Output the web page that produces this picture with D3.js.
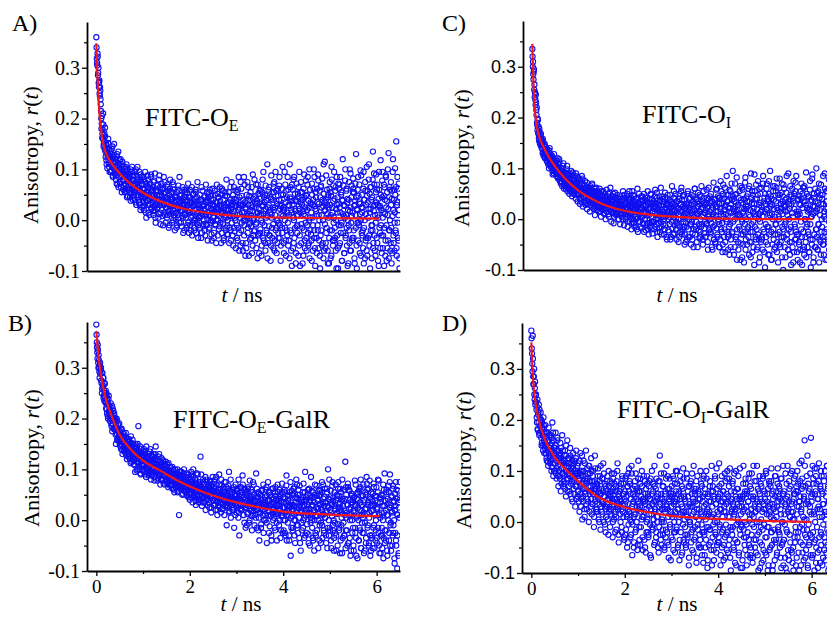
<!DOCTYPE html>
<html>
<head>
<meta charset="utf-8">
<script src="https://cdn.jsdelivr.net/npm/d3@7"></script>
<style>
  body { margin: 0; background: #fff; }
  svg { display: block; }
</style>
</head>
<body>
<script>
// decay traces, anisotropy in units of 0.001
// rX     : samples at t = 0, 0.01, 0.02 ... ns
// rX_mid : samples at t = 0.005, 0.015, 0.025 ... ns
const tStep = 0.01;

const rA = [
  360,318,305,322,290,270,272,250,262,238, 215,180,205,170,160,188,150,172,140,165,
  125,150,110,135,128,152,118,105,140,122, 130,95,118,140,105,88,125,112,150,100,
  92,115,80,108,125,70,98,135,85,110, 75,100,120,65,95,88,110,78,60,105,
  90,55,85,105,70,62,98,48,82,75, 60,88,45,100,70,52,80,95,40,68,
  78,50,95,62,35,72,85,58,105,45, 65,40,80,30,55,90,48,70,25,62,
  45,85,20,60,75,35,50,5,68,40, 55,80,15,42,70,30,62,90,25,48,
  35,65,10,50,78,20,45,-5,58,30, 50,25,70,5,42,88,30,15,55,38,
  20,60,40,-10,52,30,75,10,45,25, 45,5,35,65,18,-15,50,28,80,12,
  30,55,-5,40,20,70,10,35,-20,48, 15,45,30,-10,60,22,5,38,85,18,
  35,-5,50,20,8,42,-25,28,60,12, 10,40,25,-15,55,18,30,-5,45,20,
  60,-10,25,5,40,-30,15,50,0,30, -20,35,10,55,22,-5,45,8,-35,25,
  30,5,-15,40,18,65,-25,12,28,-8, 0,45,20,-30,35,10,-10,55,15,25,
  38,-18,8,60,-5,22,42,-40,15,30, 5,30,-25,18,50,-10,35,0,70,12,
  -30,22,45,8,-12,38,15,-45,28,62, 18,-8,40,-35,25,10,55,-20,5,33,
  48,0,-28,20,35,-15,8,65,-40,22, -5,30,12,-50,42,18,-22,5,58,28,
  40,-35,10,60,-15,25,-60,30,5,75, -20,48,15,-45,30,0,85,-10,35,-70,
  22,-55,50,8,-25,65,12,-8,40,-38, 55,-12,30,-65,18,90,-30,5,45,-20,
  -40,25,70,-5,38,-75,15,52,-28,10, 35,-18,60,0,-50,28,80,-35,12,45,
  -10,50,-60,22,40,-25,110,8,-45,30, 65,-30,15,-80,42,5,-15,55,25,-55,
  20,75,-40,10,-20,58,-65,32,0,48, -35,40,85,-10,28,-50,12,62,-25,18,
  50,-45,20,95,-15,35,-70,8,45,-30, -5,60,-40,28,110,-20,42,-60,15,70,
  30,-55,80,0,-35,52,18,-85,38,-12, -25,45,10,65,-50,22,-90,35,75,-8,
  55,-15,40,-70,12,90,-40,25,-5,48, -60,20,70,-25,38,-45,100,5,-20,32,
  15,-80,50,30,-10,62,-35,85,-55,22, 45,8,-65,35,-20,78,10,-40,58,-95,
  -30,68,25,-50,40,0,-75,52,18,115, 20,-45,88,-15,30,-60,45,5,-85,62,
  -20,55,10,-70,80,25,-40,38,-5,95, 42,-35,65,0,-95,30,15,-55,72,-10,
  -50,25,85,-25,50,-5,-80,40,12,68, 30,-65,5,100,-30,58,-15,35,-90,20,
  -10,75,-45,18,92,-60,45,8,-35,55, 62,-20,28,-85,38,10,130,-50,22,-5,
  -40,48,-10,70,-65,32,0,88,-25,15, 25,-55,95,-15,40,-75,58,12,-35,105,
  -70,35,5,80,-30,52,-95,22,65,-10, 45,-20,135,-45,18,70,-60,30,-5,90,
  -35,60,10,-80,42,95,-15,28,-55,50, 20,-65,78,5,-30,48,-90,65,12,-40,
  85,-10,38,-55,100,22,-75,45,-20,60, -45,30,-85,58,8,120,-30,40,-60,15,
  50,-25,155,-70,35,-5,62,-40,20,-95
];
const rA_mid = [
  340,310,328,285,300,262,275,245,255,228, 200,190,162,178,210,145,168,155,182,135,
  148,118,142,102,130,160,112,138,95,126, 110,135,98,122,145,85,115,102,128,92,
  120,88,105,72,130,95,112,65,100,118, 95,72,108,85,55,115,80,98,68,90,
  72,100,58,88,110,45,78,92,65,85, 82,55,95,38,75,62,105,48,88,70,
  55,88,40,70,100,30,65,80,50,75, 70,35,95,58,20,78,45,85,52,38,
  62,28,80,45,95,15,55,72,38,88, 30,65,50,10,72,40,85,22,58,45,
  60,18,75,40,28,92,5,55,35,68, 22,58,40,80,12,48,65,-8,35,72,
  48,8,62,30,85,15,40,55,-5,35, 25,70,10,42,58,32,-10,62,18,45,
  55,15,42,75,0,28,60,22,45,5, 40,-15,55,25,10,68,32,-5,48,28,
  18,50,-12,38,65,5,30,45,-20,55, 45,5,60,30,-10,38,72,15,-25,35,
  15,45,-20,35,65,8,-5,28,52,-15, 42,0,60,-25,30,15,75,-10,38,5,
  -5,50,22,8,-35,40,15,58,-12,32, 28,-20,48,12,70,-8,35,2,-40,45,
  10,55,-15,32,0,48,-28,20,62,-2, 40,-35,22,58,-8,15,-45,35,25,52,
  0,45,-18,30,65,-5,25,50,-25,12, 58,15,-40,30,5,48,-15,20,80,-28,
  -12,35,22,55,-45,10,40,-20,30,75, 25,-30,50,8,65,-15,35,0,-55,40,
  -10,55,-40,20,85,-25,45,12,-50,30, 62,-5,28,-60,40,15,-30,70,0,25,
  -45,38,5,75,-15,30,-70,48,18,-5, 10,-35,65,25,-50,42,0,-22,80,35,
  48,-8,-55,32,15,70,-30,22,-65,58, -25,42,12,-70,55,-5,30,95,-40,18,
  35,-45,68,5,-20,48,-75,25,60,-12, -30,20,45,-50,88,12,-35,40,-8,72,
  55,-60,25,95,-15,38,0,-45,62,-25, -5,68,-35,22,-80,50,30,-15,105,8,
  25,-65,42,0,70,-40,58,-20,15,85, -50,30,10,-75,45,65,-25,20,-90,38,
  60,5,-45,85,22,-15,40,-65,72,10, -10,52,-70,28,95,-30,15,55,-45,40,
  30,-85,18,62,-20,45,-55,8,78,-35, 50,-10,85,-50,25,0,-75,60,35,-28,
  -40,72,5,-60,40,100,-20,28,-90,55, 18,-35,62,-10,90,-55,32,0,-70,45,
  65,-20,10,82,-45,28,110,-60,35,-8, -55,40,-25,60,12,-85,50,25,-35,75,
  30,-75,48,105,-20,15,-50,68,5,-40, -15,58,-60,22,85,-30,45,-95,32,62,
  70,-45,15,-10,55,-80,38,120,-25,8, -65,28,78,-35,10,62,-50,42,0,-85,
  40,-20,100,-60,25,-5,68,-40,15,82, -35,55,-75,30,72,-15,45,-95,20,60,
  85,-5,35,-45,12,98,-70,25,50,-30, -20,62,-85,40,0,75,-40,30,-60,48,
  58,-35,22,110,-50,15,65,-20,40,-75, -10,80,-55,28,92,-30,10,-70,55,35,
  70,-45,30,5,-90,60,25,-25,118,-10, -30,45,95,-55,15,70,-15,40,-70,88,
  25,-80,55,10,-40,132,-20,65,0,-60, 75,-15,42,-65,95,20,-45,60,-5,102,
  -20,65,-55,30,85,-35,10,72,-75,45
];

const rB = [
  385,350,330,345,310,325,300,280,310,295, 300,270,250,290,265,280,245,235,268,250,
  255,220,245,210,232,200,238,215,225,195, 215,230,190,205,175,220,200,180,210,195,
  180,200,150,185,170,195,160,178,165,190, 150,175,160,140,180,155,130,170,162,145,
  165,138,155,172,128,150,145,160,125,148, 130,155,120,148,165,115,140,135,150,118,
  110,140,125,95,150,130,115,145,100,135, 185,120,105,135,92,128,140,110,125,98,
  125,100,140,108,90,130,115,145,95,120, 105,125,88,118,135,98,110,80,128,112,
  90,115,130,100,85,122,108,145,95,105, 110,78,102,125,92,88,115,70,100,108,
  82,105,95,115,72,100,88,110,78,95, 98,75,110,85,65,92,80,105,70,88,
  70,95,82,62,100,78,88,55,90,75, 85,68,92,72,55,80,65,10,78,95,
  62,80,70,88,50,75,65,92,58,72, 78,55,85,65,48,72,60,90,52,68,
  40,75,60,95,55,70,35,62,85,50, 65,45,80,30,58,72,50,90,42,62,
  48,70,55,125,40,65,28,58,75,45, 60,35,72,50,20,58,80,42,55,65,
  40,68,25,55,75,45,15,60,50,85, 55,30,65,42,80,20,50,70,38,10,
  35,60,45,90,25,52,40,15,68,48, 50,22,65,38,10,55,45,75,30,-10,
  28,48,62,35,95,18,42,55,5,40, 45,20,38,60,25,-15,50,32,70,28,
  15,42,58,30,5,48,-30,38,65,22, 40,20,55,88,28,10,45,-5,35,60,
  25,50,-10,38,62,15,32,45,0,28, 48,18,35,-20,55,30,10,70,25,40,
  10,38,92,22,-15,45,30,55,5,-40, 35,15,50,-8,28,60,20,40,-25,32,
  18,45,0,30,65,-45,25,38,10,55, 40,-12,28,50,8,-40,35,15,62,22,
  5,32,55,-20,18,42,-5,28,70,12, 30,-10,45,20,-35,38,8,55,15,-25,
  45,-20,25,60,0,-30,35,88,10,20, -5,40,18,-40,55,28,-70,35,8,50,
  30,-15,62,12,-30,45,0,25,80,-10, 20,50,-25,35,5,68,-45,15,40,-5,
  -20,28,55,0,38,-35,18,95,10,45, 40,-8,22,60,-28,15,35,-50,48,5,
  12,58,-15,30,-40,45,20,0,70,-25, -30,25,48,8,38,-55,15,60,-10,32,
  50,-5,20,75,-35,10,42,-20,28,62, 5,35,-45,18,55,-15,100,25,-30,40,
  -20,45,15,-55,30,68,-10,38,0,-35, 55,-25,22,40,-60,12,48,-8,75,18,
  -15,32,62,-40,20,5,-65,42,28,-5, 38,-30,10,115,-20,50,15,-50,30,65,
  -45,22,58,0,-70,35,12,48,-25,40, 18,-60,45,28,-15,70,-35,5,52,-75,
  40,0,-40,62,20,-20,80,-55,30,10, -25,48,15,-65,35,-5,55,-45,22,72,
  60,-10,30,-50,5,78,-30,42,-60,18, -35,28,52,-15,65,-55,10,38,-20,48,
  22,-45,35,80,-25,12,-65,45,5,-30, 50,-15,-55,28,70,-35,15,92,-20,38,
  -40,60,10,-70,42,0,55,-25,75,-50, 30,-60,48,15,-30,68,-10,35,-75,20,
  -25,75,-50,42,-95,10,58,-65,25,40
];
const rB_mid = [
  365,340,318,335,300,315,292,305,288,298, 275,290,258,262,280,240,255,270,242,232,
  230,250,218,240,205,228,245,210,220,205, 200,212,185,225,198,190,215,182,205,178,
  195,168,182,200,158,175,188,162,172,155, 168,145,158,178,148,138,165,152,172,135,
  140,158,132,162,150,120,155,142,135,160, 145,125,138,112,152,142,128,158,120,132,
  128,145,108,135,120,140,98,130,150,115, 112,130,100,145,118,90,132,108,122,135,
  108,128,95,118,135,102,85,125,112,100, 120,92,130,105,115,140,95,118,88,125,
  100,125,92,112,78,118,130,98,110,88, 95,118,82,105,130,88,98,112,80,122,
  102,78,118,90,95,110,70,98,115,85, 80,100,72,95,112,82,90,68,105,78,
  92,70,105,85,75,98,60,88,100,72, 65,88,78,100,70,58,90,82,68,96,
  82,60,95,70,85,52,78,100,65,75, 58,80,70,50,92,62,75,45,82,65,
  72,52,88,45,65,80,58,100,48,68, 55,82,38,70,60,92,45,65,75,35,
  65,40,75,58,90,50,62,35,80,55, 45,70,52,85,38,60,75,48,30,65,
  62,35,55,78,45,68,25,58,72,40, 38,58,75,30,62,48,85,40,55,20,
  55,28,48,70,35,60,45,80,22,50, 32,62,40,55,75,28,50,35,65,45,
  52,25,68,40,15,58,35,80,45,30, 30,55,42,20,65,38,50,10,48,60,
  48,25,62,38,80,15,42,55,28,65, 20,50,35,70,10,45,60,25,40,-15,
  55,30,48,12,65,40,-5,35,78,22, 35,60,8,42,28,75,18,50,-10,38,
  28,5,45,62,20,38,-20,52,30,15, 50,22,-15,40,58,10,35,70,0,30,
  12,40,60,25,-5,48,30,75,18,-25, 38,55,8,32,-30,45,62,20,0,42,
  25,-15,48,65,12,30,-40,38,55,15, 42,60,0,28,50,-20,35,72,10,25,
  0,35,55,-25,42,15,68,-40,28,50, 38,10,-30,48,25,75,5,-15,58,22,
  -20,52,28,0,65,-45,35,15,45,70, 42,-10,60,25,-35,50,30,-60,18,35,
  15,45,-15,72,30,5,55,-30,38,20, -25,30,50,10,-45,62,22,40,-5,85,
  45,0,28,-35,55,15,-60,35,50,8, 10,68,-20,40,22,0,48,-40,30,58,
  -45,25,55,-10,35,70,12,-25,45,5, 35,-30,15,62,-55,28,42,0,80,-15,
  20,58,-40,32,8,75,-20,45,-60,28, -5,35,70,-30,50,15,-50,62,25,-20,
  48,-65,25,55,-10,38,80,-35,12,60, -30,18,42,-55,65,5,-20,30,72,-45,
  60,10,-35,40,25,-60,52,0,35,-15, -50,45,15,78,-25,30,-70,42,8,55,
  25,-40,58,-15,35,65,-55,18,-5,48, 5,70,-25,40,-60,22,50,-35,85,12,
  -15,35,62,-45,15,45,-70,28,55,-30, 40,-55,20,72,-10,30,48,-40,0,65,
  -35,25,55,-15,78,-50,10,35,-65,42, 15,-30,48,0,-75,60,28,-45,38,20,
  55,-20,-60,32,10,68,-40,25,90,-10, -5,45,18,-50,62,-25,38,0,-85,52,
  28,-40,60,12,-30,45,-70,35,5,75
];

const rC = [
  335,300,285,290,255,240,248,225,230,205, 190,175,195,168,160,178,150,165,145,158,
  140,155,130,150,125,145,135,120,142,128, 130,115,138,120,108,125,118,140,105,122,
  118,100,125,95,110,105,90,115,98,108, 92,110,85,104,120,80,98,88,112,75,
  95,70,100,82,65,90,105,78,60,88, 70,92,60,82,98,55,75,68,88,50,
  80,55,72,95,62,45,78,85,58,65, 50,70,85,40,65,58,75,35,62,80,
  48,65,30,72,55,40,85,50,25,60, 60,35,52,75,28,45,62,20,55,40,
  30,58,45,15,65,38,50,25,70,42, 45,20,55,35,8,50,30,62,25,40,
  28,50,15,42,60,22,35,5,48,30, 40,18,55,25,10,38,45,0,32,58,
  15,35,28,50,5,40,20,62,30,-5, 38,12,25,45,-8,30,18,52,22,8,
  10,32,48,15,25,0,40,20,-10,35, 28,5,38,18,55,10,-12,30,22,42,
  0,35,20,50,-15,28,8,40,-5,25, 38,10,-20,30,55,5,22,-8,45,15,
  20,-12,40,0,28,60,-25,15,32,8, -5,30,15,45,-18,22,5,38,-10,50,
  25,0,42,-22,12,35,-8,55,18,-30, 8,40,-15,22,48,-5,30,-28,15,35,
  32,-20,12,58,0,25,-10,42,-35,18, -8,28,45,-25,15,62,5,-15,35,10,
  40,0,-30,20,52,-12,28,8,-40,30, 15,-22,35,5,-10,48,22,-35,10,65,
  -18,30,8,55,-28,18,40,-5,25,-40, 35,-12,20,-45,10,50,-25,28,0,62,
  -30,15,45,5,-15,38,-50,22,10,-8, 25,-40,8,55,-20,30,0,-35,42,12,
  -10,48,18,-28,35,-55,20,5,60,-15, 38,-5,-45,25,10,52,-22,30,-38,15,
  -25,20,65,-10,35,-50,8,42,-18,28, 12,-35,30,58,-8,22,-60,40,5,-22,
  45,0,-28,18,-55,35,10,-15,72,-40, -12,38,-48,25,5,60,-30,15,-5,42,
  30,-55,20,75,-20,40,-8,-65,50,10, -35,18,62,-45,28,0,85,-25,35,-60,
  48,-15,-70,22,55,-40,12,38,-28,95, -5,40,15,-55,70,25,-35,50,-80,18,
  28,-60,42,8,-20,65,-48,32,0,-75, 58,-30,15,-85,38,-10,82,-40,20,45,
  -50,25,-15,60,-70,35,5,-25,90,-45, 30,-65,48,-5,22,-90,55,10,-35,68,
  -20,40,-55,75,0,-40,28,-75,50,15, 62,-35,18,-60,85,5,-25,42,-95,30,
  -45,20,70,-15,35,-70,50,-30,12,95, 25,-80,40,10,-50,65,-20,38,-60,5,
  -30,55,-10,80,-45,18,-85,42,0,-25, 48,-55,22,-35,70,-15,35,-100,28,60,
  -10,38,-75,15,52,-40,8,-60,90,-20, 30,-45,65,-25,-90,45,12,-55,35,75,
  -65,20,-15,55,-40,85,-30,10,-80,40, 15,-50,45,-85,28,-5,70,-35,50,-60,
  -25,62,-70,35,0,-45,92,-15,22,-55, 45,-30,18,-65,58,-10,-95,38,5,80,
  -40,25,-75,50,12,-55,35,-20,100,-35, 20,-60,55,-10,-85,42,8,-45,68,-25,
  -15,48,-50,30,-70,15,90,-35,0,55, 35,-80,22,-40,60,-5,-60,45,-25,40,
  -55,15,70,-30,40,-75,25,-10,52,-45
];
const rC_mid = [
  320,310,275,295,265,250,235,245,215,220, 185,198,170,182,155,172,162,148,168,152,
  150,138,158,132,145,128,148,122,138,132, 125,138,112,130,122,100,135,115,128,110,
  105,122,112,88,118,100,128,95,112,102, 105,90,115,95,82,108,100,118,86,96,
  82,100,88,72,95,85,110,68,92,78, 85,65,90,78,105,70,62,88,80,72,
  60,82,68,55,88,75,92,50,70,78, 72,55,65,90,48,70,60,82,52,68,
  62,40,78,58,35,68,50,80,45,55, 42,68,55,32,62,50,72,38,48,58,
  52,35,62,48,28,58,42,68,32,50, 30,52,42,60,22,45,35,55,18,48,
  42,25,52,32,45,15,38,55,28,40, 25,45,32,12,50,28,20,42,35,15,
  38,22,45,10,32,52,18,35,25,45, 15,35,28,50,20,5,42,30,12,38,
  30,15,42,22,0,35,28,45,10,25, 12,35,20,0,40,25,48,15,30,5,
  30,10,45,22,-5,38,15,55,28,5, 12,42,-8,25,35,0,48,18,-15,30,
  35,5,25,-20,42,15,30,-5,50,10, 18,-15,35,22,5,45,-8,28,12,-25,
  0,38,15,28,-12,42,8,-20,32,20, 30,-8,22,50,5,-20,38,15,-5,25,
  -5,20,45,-15,30,8,52,-25,22,0, 25,-18,10,38,-5,28,-30,18,45,5,
  -10,35,15,-20,42,5,22,-35,30,48, 32,0,-25,20,10,-40,35,25,-5,15,
  20,-30,42,5,-12,28,50,-20,12,35, -8,22,0,40,-35,15,-15,30,55,-25,
  38,-20,25,-5,48,10,-30,20,-45,30, -15,30,50,-35,5,22,40,-10,18,-50,
  28,-5,-40,15,45,-20,30,60,-30,8, -20,40,10,-55,25,35,-10,15,48,-35,
  45,-15,30,5,-40,22,55,-28,12,-5, -35,18,-10,42,25,-45,10,62,-20,32,
  15,-25,50,-8,35,-60,22,5,-40,40, 30,-45,8,58,-18,25,-35,45,0,-55,
  -10,42,-40,15,55,-25,30,-50,68,5, 40,-20,25,-65,10,48,-5,35,-35,22,
  -30,15,58,-10,-55,30,70,-25,5,45, 20,-70,35,0,48,-40,15,82,-20,10,
  -45,28,-15,55,5,-80,38,-30,62,-5, 12,-50,40,20,-25,72,-60,25,0,35,
  -20,50,-35,8,65,-45,18,-75,42,-10, 55,-25,15,-55,30,88,-15,40,-40,5,
  -60,20,48,-30,10,-85,60,-5,32,-45, 25,-40,5,70,-20,35,-65,15,50,-10,
  -35,60,18,-50,40,-15,75,-70,8,30, 45,-25,-80,28,0,55,-40,20,65,-55,
  -10,35,62,-65,22,-30,48,5,-50,80, 15,-45,30,52,-75,10,-20,68,-35,25,
  -55,25,-5,40,85,-30,18,-60,35,0, 20,-70,48,-15,30,-45,60,5,-85,42,
  50,-10,-40,72,-25,15,-65,38,8,-30, -45,30,10,-60,55,-20,40,-90,22,62,
  35,-55,65,0,-35,28,-75,50,-10,15, -25,45,-65,20,75,-40,5,35,-50,88,
  10,-85,42,-30,25,60,-55,15,-20,52, -60,32,-10,70,-40,18,48,-70,30,0,
  40,-35,85,-50,5,-25,60,-80,20,35, -20,55,-45,12,78,-60,28,-10,45,-75,
  62,-30,22,-90,38,8,-50,95,-15,30
];

const rD = [
  375,340,310,365,285,270,300,240,275,235, 250,220,195,240,180,215,230,170,205,190,
  215,165,150,195,180,140,205,160,175,145, 190,135,150,120,175,160,110,185,145,130,
  115,170,140,100,155,195,125,90,160,135, 145,100,175,120,85,140,160,110,70,130,
  90,135,155,60,125,105,170,95,115,80, 120,75,140,100,50,130,110,160,85,95,
  70,125,90,145,55,100,115,80,40,110, 105,65,120,85,30,95,140,70,90,50,
  60,115,85,20,95,135,70,45,100,5, 90,40,120,65,10,85,55,140,75,25,
  45,95,70,0,110,55,80,30,125,60, 80,35,100,55,-10,70,130,40,65,20,
  25,75,50,105,5,60,35,90,-15,55, 65,20,85,40,115,0,50,75,30,-20,
  10,60,35,90,45,-25,70,25,55,80, 50,15,95,30,-30,65,40,5,75,45,
  20,70,-15,45,100,30,55,-40,35,60, 45,0,75,25,-20,85,35,10,55,-35,
  60,-25,40,90,15,-50,70,25,-5,105, 20,75,-30,45,0,95,-65,35,55,10,
  -40,50,80,15,-15,65,30,-55,40,120, 35,-10,60,-45,85,20,5,70,-30,45,
  10,90,-35,40,55,-60,25,0,75,-20, 50,-25,30,80,-5,45,-70,15,100,35,
  -15,60,5,-45,70,25,40,-30,85,10, 45,-50,80,20,-10,130,35,-35,55,0,
  5,70,-25,40,95,-55,25,60,-15,110, 30,-40,65,10,-70,45,85,-5,20,55,
  -30,50,15,90,-55,35,0,75,-20,40, 60,-10,100,25,-45,55,10,-75,45,80,
  -20,35,70,-60,20,105,-35,50,5,-10, 40,-50,15,85,-25,60,30,-85,70,0,
  -5,75,-40,30,95,-15,45,-60,20,65, 55,-30,10,80,-70,35,-5,60,-45,25,
  -25,45,100,-50,15,70,-20,40,-80,90, 30,-65,55,5,-35,85,20,-90,50,-10,
  -45,20,70,-15,40,-55,110,10,-30,60, 15,-75,45,90,-20,35,-60,65,0,-40,
  50,-30,115,-5,25,-85,40,75,-50,10, -15,60,-45,30,95,-70,20,-25,55,85,
  40,-60,10,70,-35,105,-10,-95,45,20, -25,80,35,-50,15,60,-80,25,100,-5,
  65,-40,5,90,-65,30,-15,50,-90,40, -10,45,-75,20,110,-30,55,0,-55,75,
  30,-85,60,-20,40,85,-45,15,70,-65, -50,25,95,-5,-70,50,10,-35,80,35,
  20,-60,45,110,-25,65,-95,30,0,55, -40,75,5,-80,40,-15,90,-55,25,60,
  45,-30,100,-65,15,55,-95,30,-10,80, -55,20,70,-20,105,-45,35,-85,60,5,
  30,-75,50,90,-35,10,-60,75,-15,40, -20,65,-50,25,85,-90,40,0,-40,110,
  55,-35,15,-70,95,30,-15,-100,50,20, -65,40,80,-25,10,70,-55,35,100,-80,
  20,-95,55,5,-40,90,-20,60,-70,30, -30,75,-60,40,115,-10,50,-85,25,65,
  85,-45,10,-75,45,160,-25,70,-55,5, -15,130,-90,35,60,-40,20,95,-65,50,
  40,-70,110,-20,75,15,-95,55,-35,90, -50,105,25,-60,45,80,-30,10,-80,65,
  100,-25,60,-85,35,-5,90,-55,20,-40, -75,50,15,110,-45,70,-20,40,-90,85,
  30,-60,95,-15,55,-100,25,75,-35,10
];
const rD_mid = [
  360,330,295,320,270,285,250,262,230,248, 235,205,225,182,210,195,175,220,188,200,
  178,200,155,185,170,150,190,135,168,155, 150,175,125,165,140,118,158,135,170,128,
  150,120,165,108,140,130,175,115,100,145, 115,150,95,130,105,165,90,125,140,100,
  130,85,110,145,75,118,95,140,70,120, 90,130,65,115,150,85,100,60,125,105,
  115,60,95,130,75,105,45,120,90,135, 80,115,55,100,70,125,45,95,110,60,
  95,40,80,120,55,100,30,75,130,65, 50,100,75,25,115,60,90,35,80,105,
  85,40,110,60,20,95,70,45,100,15, 35,90,55,80,10,65,105,45,25,75,
  70,20,90,45,65,0,80,55,110,30, 40,85,15,60,35,95,50,-5,70,25,
  65,30,80,5,55,100,20,45,-10,60, 25,75,45,60,0,85,35,95,15,-20,
  60,10,80,40,115,25,-25,50,70,30, 15,65,40,-10,90,20,55,75,-30,45,
  35,85,-15,50,10,70,-40,95,20,60, 80,5,55,-25,110,30,-5,65,40,-50,
  15,70,-20,95,45,0,60,-45,85,25, 60,-35,30,75,-10,50,100,10,-55,40,
  45,20,80,-50,35,65,-20,90,5,55, -30,70,15,45,-65,85,25,55,-10,35,
  75,-5,40,110,-40,20,65,-20,50,0, 10,55,-60,30,80,-25,45,95,-45,25,
  45,-15,70,0,-50,55,20,-30,85,35, -20,90,25,-45,40,65,-10,50,-75,30,
  70,10,-35,55,85,-20,40,-60,20,100, -15,45,75,-50,25,0,60,-35,90,15,
  50,-65,30,65,-5,85,-40,20,45,-25, -45,20,95,10,-30,50,70,-70,35,0,
  30,80,-20,55,-55,15,40,110,-35,60, -10,40,65,-80,25,90,-15,45,5,-50,
  55,-35,20,75,-5,-65,50,10,85,-20, -25,65,-50,35,100,-10,25,-75,55,15,
  40,-15,80,-40,10,60,-85,30,70,-5, -55,50,0,85,-25,35,105,-45,20,45,
  15,-40,70,-10,55,-65,25,90,-20,40, 60,-75,20,45,-30,80,-5,35,-55,100,
  -20,50,-45,85,10,-70,40,60,-15,25, 75,-10,30,-55,95,20,-35,50,-85,45,
  -40,35,65,0,-60,45,105,-25,15,-5, 30,-90,50,75,-15,25,-45,60,85,-30,
  -5,55,-65,20,40,-35,95,5,-70,50, 65,-25,15,-80,45,110,-10,30,-50,20,
  -35,80,0,40,-65,25,60,-20,90,-90, 45,-10,70,-45,20,85,-75,35,-5,55,
  -60,25,95,-30,40,-10,65,-85,15,75, 35,-50,10,80,-20,55,-95,45,25,-35,
  -15,90,-40,20,60,-65,30,105,-10,50, 70,-25,45,-70,15,85,-45,0,55,-85,
  -35,60,-5,35,-90,45,75,-20,110,-55, 25,-75,65,10,-40,95,20,-60,40,5,
  -50,45,85,-30,55,-10,-85,70,15,100, 60,-20,30,-95,40,80,-40,20,120,-5,
  -60,70,-15,50,5,110,-70,35,-30,90, 40,-85,75,-5,-45,65,30,-25,165,15,
  -30,55,-65,85,20,-40,105,0,60,-80, 75,-10,45,-90,30,115,-55,25,70,-20,
  -45,90,10,55,-70,35,80,-30,100,5, 20,-60,110,-15,65,-95,40,85,-35,50,
  -80,35,75,5,-40,95,-20,60,10,-65
];

// fitted decay curves (t in ns, r)
const fitA_t = [0, 0.02, 0.05, 0.08, 0.12, 0.18, 0.25, 0.35, 0.5, 0.7, 1.0, 1.4, 1.9, 2.5, 3.2, 4.0, 5.0, 6.05];
const fitA_r = [0.348, 0.291, 0.233, 0.195, 0.165, 0.139, 0.123, 0.109, 0.092, 0.074, 0.054, 0.036, 0.022, 0.013, 0.007, 0.005, 0.004, 0.003];
const fitB_t = [0, 0.05, 0.1, 0.2, 0.35, 0.5, 0.75, 1.0, 1.36, 1.8, 2.3, 3.0, 3.5, 4.0, 5.0, 6.05];
const fitB_r = [0.372, 0.320, 0.285, 0.240, 0.200, 0.168, 0.138, 0.117, 0.098, 0.075, 0.055, 0.035, 0.025, 0.017, 0.011, 0.008];
const fitC_t = [0, 0.02, 0.05, 0.08, 0.12, 0.18, 0.25, 0.35, 0.5, 0.7, 1.0, 1.4, 1.9, 2.5, 3.2, 4.0, 5.0, 6.0];
const fitC_r = [0.345, 0.279, 0.223, 0.193, 0.172, 0.154, 0.140, 0.123, 0.102, 0.080, 0.055, 0.034, 0.018, 0.009, 0.004, 0.001, 0.0, 0.0];
const fitD_t = [0, 0.03, 0.06, 0.1, 0.16, 0.3, 0.5, 0.77, 1.0, 1.41, 2.0, 2.5, 3.0, 4.0, 5.0, 6.0];
const fitD_r = [0.352, 0.290, 0.255, 0.228, 0.200, 0.160, 0.127, 0.100, 0.080, 0.050, 0.029, 0.019, 0.012, 0.006, 0.002, 0.000];

const yTicks = [-0.1, 0.0, 0.1, 0.2, 0.3];
const yMinor = [-0.05, 0.05, 0.15, 0.25, 0.35];
const xTicks = [0, 2, 4, 6];
const xMinor = [1, 3, 5];

const serif = "'Liberation Serif', 'Times New Roman', serif",
      sans = "'Liberation Sans', Arial, sans-serif";

const width = 827, height = 617,
      svg = d3.select("body").append("svg")
              .attr("width", width)
              .attr("height", height);

const panels = [
  {id: "A", r: rA, rMid: rA_mid, ft: fitA_t, fr: fitA_r, left: 87, top: 22, h: 249, yFont: serif, yFs: 20, xLabels: false,
   letter: [12, 31], name: ["FITC-O", "E", ""], namePos: [145, 126], yTitle: [38, 155], xTitle: [242, 302]},
  {id: "C", r: rC, rMid: rC_mid, ft: fitC_t, fr: fitC_r, left: 523, top: 21, h: 249, yFont: sans, yFs: 18, xLabels: false,
   letter: [442, 31], name: ["FITC-O", "I", ""], namePos: [642, 123], yTitle: [469, 158], xTitle: [677, 302]},
  {id: "B", r: rB, rMid: rB_mid, ft: fitB_t, fr: fitB_r, left: 87, top: 322, h: 249, yFont: serif, yFs: 20, xLabels: true,
   letter: [8, 331], name: ["FITC-O", "E", "-GalR"], namePos: [173, 428], yTitle: [39, 458], xTitle: [241, 611]},
  {id: "D", r: rD, rMid: rD_mid, ft: fitD_t, fr: fitD_r, left: 522, top: 323, h: 250, yFont: sans, yFs: 18, xLabels: true,
   letter: [442, 331], name: ["FITC-O", "I", "-GalR"], namePos: [617, 418], yTitle: [471, 460], xTitle: [677, 611]}
];

const plotW = 313;

panels.forEach(p => {
  const x = d3.scaleLinear().domain([-0.2, 6.5]).range([p.left, p.left + plotW]),
        y = d3.scaleLinear().domain([-0.1, 0.39]).range([p.top + p.h, p.top]),
        g = svg.append("g").attr("class", "panel-" + p.id);

  const pts = p.r.map((v, i) => [i * tStep, v / 1000])
    .concat(p.rMid.map((v, i) => [(i + 0.5) * tStep, v / 1000]));

  // clip the markers to the plot box
  g.append("clipPath").attr("id", "clip-" + p.id)
    .append("rect")
    .attr("x", p.left).attr("y", p.top - 6)
    .attr("width", plotW).attr("height", p.h + 6);

  g.append("g")
    .attr("clip-path", "url(#clip-" + p.id + ")")
    .selectAll("circle")
    .data(pts)
    .join("circle")
    .attr("cx", d => x(d[0]))
    .attr("cy", d => y(d[1]))
    .attr("r", 2.6)
    .attr("fill", "none")
    .attr("stroke", "#0f0ff0")
    .attr("stroke-width", 1.1);

  const line = d3.line()
    .x(d => x(d[0]))
    .y(d => y(d[1]))
    .curve(d3.curveMonotoneX);

  g.append("path")
    .datum(p.ft.map((t, i) => [t, p.fr[i]]))
    .attr("d", line)
    .attr("fill", "none")
    .attr("stroke", "#f01818")
    .attr("stroke-width", 2.2);

  // y axis with minor ticks
  const yAxis = g.append("g")
    .attr("transform", "translate(" + p.left + ",0)")
    .call(d3.axisLeft(y).tickValues(yTicks).tickFormat(d => d.toFixed(1))
            .tickSize(5).tickSizeOuter(0).tickPadding(2));
  yAxis.selectAll("text").attr("font-family", p.yFont).attr("font-size", p.yFs);
  yAxis.select(".domain").attr("stroke-width", 1.8);
  yAxis.selectAll(".tick line").attr("stroke-width", 1.3);

  g.append("g")
    .attr("transform", "translate(" + p.left + ",0)")
    .call(d3.axisLeft(y).tickValues(yMinor).tickFormat("").tickSize(3).tickSizeOuter(0))
    .call(a => a.select(".domain").remove())
    .selectAll(".tick line").attr("stroke-width", 1.2);

  // x axis
  const xAxis = g.append("g")
    .attr("transform", "translate(0," + (p.top + p.h) + ")")
    .call(d3.axisBottom(x).tickValues(p.xLabels ? xTicks : []).tickFormat(d3.format("d"))
            .tickSize(5).tickSizeOuter(0).tickPadding(4));
  xAxis.selectAll("text").attr("font-family", serif).attr("font-size", 19);
  xAxis.select(".domain").attr("stroke-width", 1.8);
  xAxis.selectAll(".tick line").attr("stroke-width", 1.3);

  if (p.xLabels) {
    g.append("g")
      .attr("transform", "translate(0," + (p.top + p.h) + ")")
      .call(d3.axisBottom(x).tickValues(xMinor).tickFormat("").tickSize(3).tickSizeOuter(0))
      .call(a => a.select(".domain").remove())
      .selectAll(".tick line").attr("stroke-width", 1.2);
  }

  // panel letter
  g.append("text")
    .attr("x", p.letter[0]).attr("y", p.letter[1])
    .attr("font-family", serif).attr("font-size", 24)
    .text(p.id + ")");

  // sample name with subscript
  const name = g.append("text")
    .attr("x", p.namePos[0]).attr("y", p.namePos[1])
    .attr("font-family", serif).attr("font-size", 26);
  name.append("tspan").text(p.name[0]);
  name.append("tspan").attr("font-size", 16).attr("dy", 5).text(p.name[1]);
  if (p.name[2]) name.append("tspan").attr("dy", -5).text(p.name[2]);

  // y title
  const yt = g.append("text")
    .attr("transform", "translate(" + p.yTitle[0] + "," + p.yTitle[1] + ") rotate(-90)")
    .attr("text-anchor", "middle")
    .attr("font-family", serif).attr("font-size", 22);
  yt.append("tspan").text("Anisotropy, ");
  yt.append("tspan").attr("font-style", "italic").text("r");
  yt.append("tspan").text("(");
  yt.append("tspan").attr("font-style", "italic").text("t");
  yt.append("tspan").text(")");

  // x title
  const xt = g.append("text")
    .attr("x", p.xTitle[0]).attr("y", p.xTitle[1])
    .attr("text-anchor", "middle")
    .attr("font-family", serif).attr("font-size", 21);
  xt.append("tspan").attr("font-style", "italic").text("t");
  xt.append("tspan").text(" / ns");
});
</script>
</body>
</html>
